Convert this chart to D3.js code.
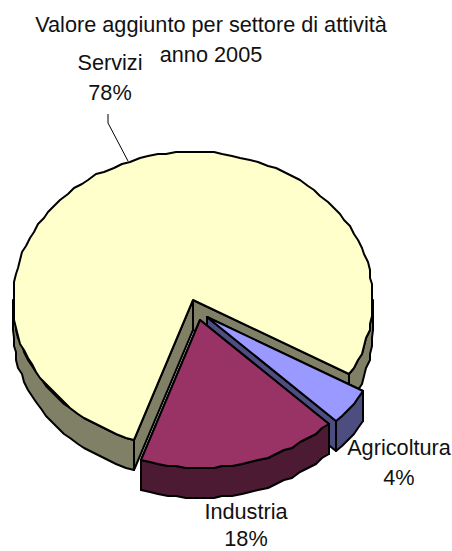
<!DOCTYPE html>
<html><head><meta charset="utf-8">
<script src="https://cdn.jsdelivr.net/npm/d3@7"></script>
<style>html,body{margin:0;padding:0;background:#fff}svg{display:block}text{font-family:"Liberation Sans",Arial,sans-serif;font-size:21.7px;fill:#111}</style>
</head><body><div id="c"></div>
<script>
const titleLines = ["Valore aggiunto per settore di attività", "anno 2005"];
const categories = ["Agricoltura", "Industria", "Servizi"];
const values = [4, 18, 78];
const topColors = ["#9999ff", "#993366", "#ffffcc"];
const sideColors = ["#4d4d80", "#4d1a33", "#808066"];
const centers = [[207, 317], [200, 320], [193, 300]];
const labelLines = [[399, 455, 485], [246, 519, 546], [110, 70, 100]];

const W = 452, H = 551, rx = 180, ry = 148, depth = 30, snap = 2;
const svg = d3.select("#c").append("svg").attr("width", W).attr("height", H);
const pie = d3.pie().sort(null).startAngle(120 * Math.PI / 180).endAngle(480 * Math.PI / 180);
const arcs = pie(values);
const line = d3.line();
const q = v => Math.round(v / snap) * snap;

function rim(c, a0, a1, dy) {
  const n = Math.max(1, Math.round((a1 - a0) / (3 * Math.PI / 180)));
  return d3.range(n + 1).map(i => {
    const a = a0 + (a1 - a0) * i / n;
    const x = c[0] + rx * Math.sin(a), y = c[1] - ry * Math.cos(a) + dy;
    return (i === 0 || i === n) ? [Math.round(x), Math.round(y)] : [q(x), q(y)];
  });
}
function draw(pts, fill) {
  svg.append("path").attr("d", line(pts) + "Z").attr("fill", fill)
    .attr("stroke", "#000").attr("stroke-width", 2).attr("stroke-linejoin", "round");
}
function cutWall(c, a, fill) {
  const p = rim(c, a, a, 0)[0];
  draw([c, p, [p[0], p[1] + depth], [c[0], c[1] + depth]], fill);
}
function outerWall(c, a0, a1, fill) {
  const top = rim(c, a0, a1, 0), bot = rim(c, a0, a1, depth).reverse();
  draw(top.concat(bot), fill);
}
// back to front: Servizi first, then Agricoltura, then Industria
[2, 0, 1].forEach(i => {
  const d = arcs[i], c = centers[i];
  if (i === 2) {
    const a1 = d.endAngle, a0 = d.startAngle;
    cutWall(c, a1 - 2 * Math.PI, sideColors[i]);
    cutWall(c, a0, sideColors[i]);
    outerWall(c, a0, 1.5 * Math.PI, sideColors[i]);
    outerWall(c, Math.PI / 2, a1 - 2 * Math.PI, sideColors[i]);
  } else {
    cutWall(c, d.startAngle, sideColors[i]);
    cutWall(c, d.endAngle, sideColors[i]);
    outerWall(c, d.startAngle, d.endAngle, sideColors[i]);
  }
  draw([c].concat(rim(c, d.startAngle, d.endAngle, 0)), topColors[i]);
});

svg.append("path").attr("d", line([[108, 114], [108, 123], [128, 161]]))
  .attr("fill", "none").attr("stroke", "#000").attr("stroke-width", 1);

svg.append("text").attr("x", 211).attr("y", 32).attr("text-anchor", "middle").text(titleLines[0]);
svg.append("text").attr("x", 211).attr("y", 62).attr("text-anchor", "middle").text(titleLines[1]);
categories.forEach((name, i) => {
  const [x, y1, y2] = labelLines[i];
  svg.append("text").attr("x", x).attr("y", y1).attr("text-anchor", "middle").text(name);
  svg.append("text").attr("x", x).attr("y", y2).attr("text-anchor", "middle").text(values[i] + "%");
});
</script></body></html>
